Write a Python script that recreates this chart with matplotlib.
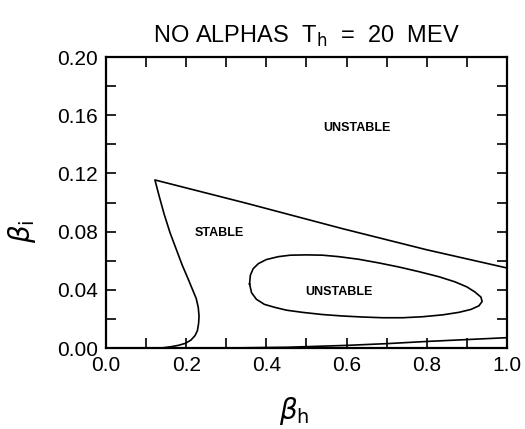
import matplotlib
matplotlib.use("Agg")
import matplotlib.pyplot as plt

# outer stability boundary (left branch + upper line)
outer_x = [0.138, 0.16, 0.18, 0.198, 0.212, 0.222, 0.228, 0.231, 0.232, 0.230,
           0.225, 0.216, 0.204, 0.19, 0.175, 0.16, 0.145, 0.132, 0.122,
           0.35, 0.59, 0.80, 1.0]
outer_y = [0.0, 0.0008, 0.0018, 0.0032, 0.0055, 0.0085, 0.012, 0.017, 0.022, 0.028,
           0.034, 0.040, 0.048, 0.057, 0.068, 0.079, 0.092, 0.105, 0.1155,
           0.0995, 0.082, 0.0675, 0.055]

# inner closed unstable island
loop_x = [0.358, 0.360, 0.367, 0.38, 0.40, 0.43, 0.46, 0.50, 0.54, 0.58, 0.63,
          0.68, 0.73, 0.78, 0.83, 0.87, 0.90, 0.92, 0.935, 0.938, 0.93, 0.91,
          0.88, 0.84, 0.79, 0.74, 0.69, 0.64, 0.59, 0.54, 0.49, 0.45, 0.42,
          0.395, 0.375, 0.363, 0.358]
loop_y = [0.044, 0.050, 0.0545, 0.058, 0.0608, 0.0628, 0.0638, 0.064, 0.0638, 0.0628,
          0.061, 0.0585, 0.0557, 0.0525, 0.049, 0.0455, 0.042, 0.0385, 0.035, 0.032,
          0.029, 0.0265, 0.0245, 0.0228, 0.0215, 0.0208, 0.0208, 0.0213, 0.022, 0.023,
          0.0245, 0.026, 0.028, 0.030, 0.0335, 0.038, 0.044]

# lower boundary near the axis
low_x = [0.30, 0.45, 0.60, 0.70, 0.80, 0.90, 1.0]
low_y = [0.0, 0.0005, 0.0018, 0.003, 0.0045, 0.0058, 0.0071]

labels = ["UNSTABLE", "STABLE", "UNSTABLE"]
label_x = [0.626, 0.282, 0.581]
label_y = [0.151, 0.079, 0.0385]

xticks = [0.0, 0.2, 0.4, 0.6, 0.8, 1.0]
yticks = [0.00, 0.04, 0.08, 0.12, 0.16, 0.20]

plt.rcParams['font.family'] = ['Liberation Sans', 'DejaVu Sans']
plt.rcParams['mathtext.fontset'] = 'dejavusans'

fig = plt.figure(figsize=(5.25, 4.29), dpi=100)
ax = fig.add_axes([0.2019, 0.1888, 0.7638, 0.6783])

ax.plot(outer_x, outer_y, color="black", lw=1.2)
ax.plot(loop_x, loop_y, color="black", lw=1.2)
ax.plot(low_x, low_y, color="black", lw=1.2)

for t, x, y in zip(labels, label_x, label_y):
    ax.text(x, y, t, ha="center", va="center", fontsize=9, fontweight="bold")

ax.set_xlim(0, 1.0)
ax.set_ylim(0, 0.20)
ax.set_xticks(xticks)
ax.set_yticks(yticks)
ax.set_xticklabels(["%.1f" % v for v in xticks])
ax.set_yticklabels(["%.2f" % v for v in yticks])
ax.set_xticks([0.1, 0.3, 0.5, 0.7, 0.9], minor=True)
ax.set_yticks([0.02, 0.06, 0.10, 0.14, 0.18], minor=True)
ax.tick_params(which="both", direction="in", top=True, right=True, width=1.2,
               labelsize=15)
ax.tick_params(which="major", length=7, pad=6)
ax.tick_params(which="minor", length=7)
for s in ax.spines.values():
    s.set_linewidth(1.6)

ax.set_title(r"NO ALPHAS  T$_\mathsf{h}$  =  20  MEV", fontsize=17, pad=10)
ax.set_xlabel(r"$\beta_\mathsf{h}$", fontsize=20, va="center")
ax.set_ylabel(r"$\beta_\mathsf{i}$", fontsize=20, va="center")
ax.xaxis.set_label_coords(0.47, -0.215)
ax.yaxis.set_label_coords(-0.21, 0.40)

fig.savefig("out.png", dpi=100)
